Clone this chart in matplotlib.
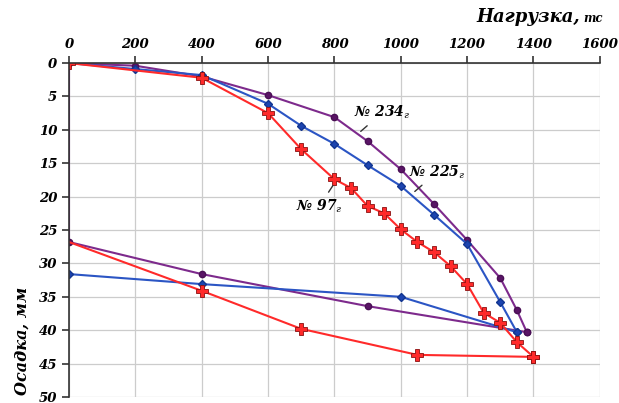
import numpy as np
from matplotlib import pyplot as plt

# load, tc / settlement, mm
load_234 = [0, 200, 400, 600, 800, 900, 1000, 1100, 1200, 1300, 1350, 1380]
sett_234 = [0, 0.4, 2.0, 4.8, 8.1, 11.7, 15.9, 21.1, 26.5, 32.2, 37.0, 40.3]
unload_234 = [1380, 900, 400, 0]
rebound_234 = [40.3, 36.4, 31.6, 26.8]

load_225 = [0, 200, 400, 600, 700, 800, 900, 1000, 1100, 1200, 1300, 1350]
sett_225 = [0, 0.9, 1.8, 6.1, 9.4, 12.1, 15.3, 18.4, 22.7, 27.1, 35.8, 40.3]
unload_225 = [1350, 1000, 400, 0]
rebound_225 = [40.3, 35.0, 33.1, 31.6]

load_97 = [0, 400, 600, 700, 800, 850, 900, 950, 1000, 1050, 1100, 1150,
           1200, 1250, 1300, 1350, 1400]
sett_97 = [0, 2.2, 7.5, 12.9, 17.4, 18.7, 21.4, 22.5, 24.9, 26.8, 28.3, 30.4,
           33.1, 37.4, 38.9, 41.8, 44.0]
unload_97 = [1400, 1050, 700, 400, 0]
rebound_97 = [44.0, 43.7, 39.8, 34.1, 26.8]

x_ticks = [0, 200, 400, 600, 800, 1000, 1200, 1400, 1600]
y_ticks = [0, 5, 10, 15, 20, 25, 30, 35, 40, 45, 50]

purple = '#7d2a8c'
blue = '#2b55c4'
red = '#ff2a2a'

plt.rcParams['font.family'] = 'DejaVu Serif'
plt.rcParams['mathtext.fontset'] = 'dejavuserif'

fig = plt.figure(figsize=(6.19, 4.03), dpi=100)
ax = fig.add_axes([0.1115, 0.015, 0.8575, 0.8285])

# pile no. 234
ax.plot([load_234[0], unload_234[-1]], [sett_234[0], rebound_234[-1]],
        color=purple, lw=1.5)
ax.plot(load_234, sett_234, color=purple, lw=1.5, marker='o', ms=4.5,
        mfc='#5a1466', mec='#4a0f55')
ax.plot(unload_234, rebound_234, color=purple, lw=1.5, marker='o', ms=4.5,
        mfc='#5a1466', mec='#4a0f55')

# pile no. 225
ax.plot(load_225, sett_225, color=blue, lw=1.5, marker='D', ms=4.5,
        mfc='#1c44b0', mec='#123590')
ax.plot(unload_225, rebound_225, color=blue, lw=1.5, marker='D', ms=4.5,
        mfc='#1c44b0', mec='#123590')

# pile no. 97
ax.plot(load_97, sett_97, color=red, lw=1.5, marker='P', ms=8,
        mfc=red, mec='#8a1010', mew=0.6)
ax.plot(unload_97, rebound_97, color=red, lw=1.5, marker='P', ms=8,
        mfc=red, mec='#8a1010', mew=0.6, markevery=[0, 1, 2, 3])

ax.set_xlim(0, 1600)
ax.set_ylim(50, 0)
ax.set_xticks(x_ticks)
ax.set_yticks(y_ticks)
ax.xaxis.tick_top()
ax.tick_params(axis='both', direction='out', length=5, width=1.2, color='#333333',
               labelsize=9.5)
for lab in ax.get_xticklabels() + ax.get_yticklabels():
    lab.set_fontweight('bold')
    lab.set_fontstyle('italic')
ax.grid(True, color='#cccccc', lw=0.9)
ax.set_axisbelow(True)
for side in ['right', 'bottom']:
    ax.spines[side].set_visible(False)
for side in ['top', 'left']:
    ax.spines[side].set_color('#333333')
    ax.spines[side].set_linewidth(1.2)

# labels
fig.text(0.937, 0.945, 'Нагрузка,', ha='right', va='baseline', fontsize=13,
         fontweight='bold', fontstyle='italic')
fig.text(0.942, 0.945, 'тс', ha='left', va='baseline', fontsize=8.5,
         fontweight='bold', fontstyle='italic')
fig.text(0.035, 0.155, 'Осадка, мм', rotation=90, ha='center', va='center',
         fontsize=11.5, fontweight='bold', fontstyle='italic')

lbl = dict(fontsize=10, fontweight='bold', fontstyle='italic', ha='center',
           va='center')
arr = dict(arrowstyle='-', color='#333333', lw=1)
ax.annotate('№ 234$_{г}$', xy=(873, 10.5), xytext=(945, 7.4),
            arrowprops=arr, **lbl)
ax.annotate('№ 225$_{г}$', xy=(1036, 19.5), xytext=(1110, 16.3),
            arrowprops=arr, **lbl)
ax.annotate('№ 97$_{г}$', xy=(800, 18.0), xytext=(755, 21.4),
            arrowprops=arr, **lbl)

plt.savefig('out.png', dpi=100)
